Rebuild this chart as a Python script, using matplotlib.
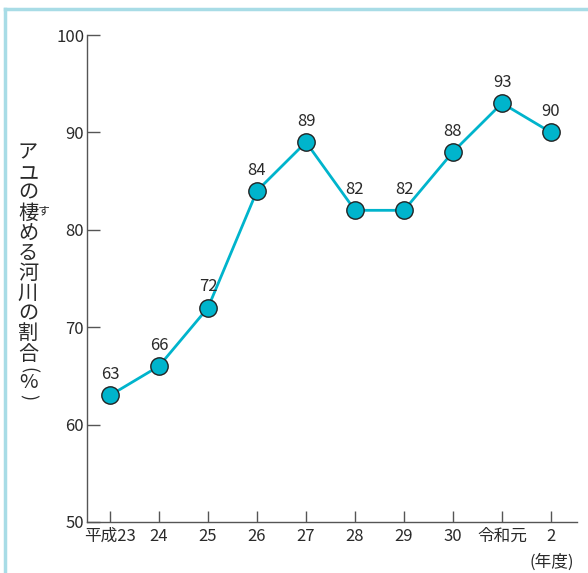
import numpy as np
import matplotlib.pyplot as plt
from matplotlib.lines import Line2D

plt.rcParams['font.family'] = ['Noto Sans CJK JP', 'DejaVu Sans']

# アユの棲める河川の割合
years = ['平成23', '24', '25', '26', '27', '28', '29', '30', '令和元', '2']
ratio = [63, 66, 72, 84, 89, 82, 82, 88, 93, 90]
yticks = [50, 60, 70, 80, 90, 100]

W, H = 588, 573
fig = plt.figure(figsize=(W / 100, H / 100), dpi=100)
ax = fig.add_axes([87 / W, 1 - 522 / H, (577 - 87) / W, (522 - 35) / H])

text_c = '#2a2a2a'
line_c = '#00b4cc'

x = np.arange(len(years))
ax.plot(x, ratio, color=line_c, lw=2, zorder=2, clip_on=False)
ax.plot(x, ratio, 'o', ms=12.5, mfc=line_c, mec='#222222', mew=1.0,
        zorder=3, clip_on=False)
for xi, v in zip(x, ratio):
    ax.annotate(str(v), (xi, v), xytext=(0, 15), textcoords='offset points',
                ha='center', va='center', fontsize=12, color=text_c)

ax.set_xlim(-23 / 49, (577 - 110) / 49)
ax.set_ylim(50, 100)
ax.set_xticks(x)
ax.set_xticklabels(years)
ax.set_yticks(yticks)
for s in ['top', 'right']:
    ax.spines[s].set_visible(False)
for s in ['left', 'bottom']:
    ax.spines[s].set_color('#555555')
    ax.spines[s].set_linewidth(1.0)
ax.tick_params(axis='both', direction='in', color='#555555', labelcolor=text_c,
               labelsize=12, width=1.0)
ax.tick_params(axis='x', length=8, pad=4)
ax.tick_params(axis='y', length=9, pad=2)

# 縦書きの軸ラベル
label_chars = list('アユの棲める河川の割合')
y0, step = 153, 20.1
for i, ch in enumerate(label_chars):
    fig.text(28 / W, 1 - (y0 + i * step) / H, ch, ha='center', va='center',
             fontsize=14.5, color=text_c)
fig.text(44 / W, 1 - 211 / H, 'す', ha='center', va='center',
         fontsize=8.5, color=text_c)
fig.text(28 / W, 1 - 370 / H, '(', ha='center', va='center', rotation=-90,
         fontsize=13, color=text_c)
fig.text(28 / W, 1 - 383 / H, '%', ha='center', va='center',
         fontsize=14.5, color=text_c)
fig.text(28 / W, 1 - 397 / H, ')', ha='center', va='center', rotation=-90,
         fontsize=13, color=text_c)

fig.text(552 / W, 1 - 562 / H, '(年度)', ha='center', va='center',
         fontsize=12, color=text_c)

# 外枠(上と左)
frame_c = '#a8dce6'
fig.add_artist(Line2D([5 / W, 1], [1 - 9 / H] * 2, color=frame_c, lw=2.5,
                      transform=fig.transFigure))
fig.add_artist(Line2D([5 / W] * 2, [0, 1 - 9 / H], color=frame_c, lw=2.5,
                      transform=fig.transFigure))

fig.savefig('out.png', dpi=100)
